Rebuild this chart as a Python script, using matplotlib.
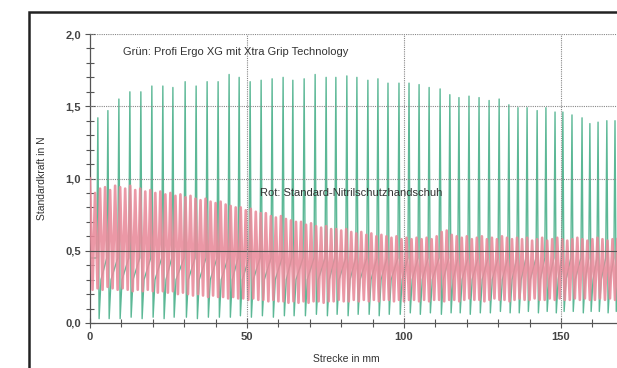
import numpy as np
import matplotlib
matplotlib.use('Agg')
import matplotlib.pyplot as plt
from matplotlib.patches import Rectangle
from matplotlib.ticker import MultipleLocator, FuncFormatter

plt.rcParams['font.family'] = ['Liberation Sans', 'DejaVu Sans']

# Grün: Spitzen (Position in mm, Kraft in N) und Tiefpunkte
gruen_x = [2.5, 5.7, 9.2, 12.7, 16.2, 19.7, 23.2, 26.4, 30.3, 33.8, 37.3, 40.8,
           44.3, 47.5, 51.0, 54.5, 58.0, 61.5, 64.6, 68.2, 71.7, 75.2, 78.3, 81.8,
           85.0, 88.5, 91.7, 94.9, 98.4, 101.6, 104.8, 108.0, 111.5, 114.6, 117.5,
           120.7, 123.9, 127.1, 130.3, 133.4, 136.3, 139.2, 142.4, 145.2, 148.1,
           150.6, 153.5, 156.7, 159.2, 161.8, 164.6, 167.2]
gruen_peak = [1.42, 1.47, 1.55, 1.60, 1.60, 1.64, 1.64, 1.63, 1.67, 1.64, 1.67, 1.67,
              1.72, 1.70, 1.67, 1.68, 1.69, 1.70, 1.68, 1.69, 1.72, 1.70, 1.70, 1.71,
              1.70, 1.68, 1.69, 1.66, 1.66, 1.66, 1.65, 1.63, 1.62, 1.58, 1.56,
              1.57, 1.56, 1.54, 1.55, 1.51, 1.49, 1.49, 1.47, 1.49, 1.46,
              1.46, 1.44, 1.42, 1.38, 1.39, 1.40, 1.40]
gruen_tief = [0.03, 0.03, 0.03, 0.04, 0.03, 0.04, 0.03, 0.04, 0.04, 0.03, 0.04, 0.04,
              0.04, 0.05, 0.04, 0.05, 0.04, 0.05, 0.05, 0.05, 0.06, 0.05, 0.06, 0.05,
              0.06, 0.06, 0.05, 0.06, 0.06, 0.07, 0.06, 0.07, 0.06, 0.07, 0.07,
              0.06, 0.07, 0.07, 0.08, 0.07, 0.07, 0.08, 0.07, 0.08, 0.07,
              0.08, 0.08, 0.07, 0.08, 0.08, 0.07, 0.08]
gruen_ruhe = (0.30, 0.45)

# Rot: Maxima und Minima je Zyklus
rot_periode = 1.6
rot_max = [1.00, 0.90, 0.93, 0.94, 0.92, 0.95, 0.94, 0.93, 0.95, 0.92, 0.93, 0.91,
           0.92, 0.90, 0.91, 0.89, 0.90, 0.88, 0.89, 0.87, 0.88, 0.86, 0.85, 0.86,
           0.84, 0.83, 0.84, 0.82, 0.81, 0.80, 0.80, 0.78, 0.79, 0.77, 0.76, 0.76,
           0.74, 0.73, 0.74, 0.72, 0.71, 0.70, 0.70, 0.68, 0.69, 0.67, 0.66, 0.67,
           0.65, 0.65, 0.64, 0.65, 0.63, 0.62, 0.63, 0.61, 0.62, 0.60, 0.61, 0.60,
           0.59, 0.60, 0.58, 0.59, 0.58, 0.59, 0.58, 0.59, 0.58, 0.60, 0.63, 0.64,
           0.61, 0.60, 0.59, 0.60, 0.58, 0.59, 0.60, 0.58, 0.59, 0.58, 0.60, 0.59,
           0.58, 0.59, 0.58, 0.59, 0.57, 0.58, 0.59, 0.57, 0.58, 0.59, 0.58, 0.57,
           0.58, 0.59, 0.58, 0.57, 0.58, 0.59, 0.58, 0.57, 0.58, 0.58]
rot_min = [0.23, 0.24, 0.23, 0.25, 0.24, 0.23, 0.24, 0.23, 0.22, 0.23, 0.22, 0.23,
           0.22, 0.21, 0.22, 0.21, 0.22, 0.20, 0.21, 0.20, 0.19, 0.20, 0.19, 0.18,
           0.19, 0.18, 0.18, 0.17, 0.18, 0.17, 0.17, 0.16, 0.17, 0.16, 0.16, 0.15,
           0.16, 0.15, 0.15, 0.14, 0.15, 0.14, 0.15, 0.14, 0.15, 0.15, 0.14, 0.15,
           0.15, 0.16, 0.15, 0.15, 0.16, 0.15, 0.16, 0.15, 0.16, 0.15, 0.16, 0.16,
           0.15, 0.16, 0.15, 0.16, 0.16, 0.15, 0.16, 0.15, 0.16, 0.16, 0.15, 0.16,
           0.16, 0.15, 0.16, 0.17, 0.16, 0.16, 0.15, 0.16, 0.17, 0.16, 0.16, 0.15,
           0.16, 0.17, 0.16, 0.16, 0.17, 0.16, 0.16, 0.17, 0.16, 0.17, 0.16, 0.16,
           0.17, 0.16, 0.17, 0.16, 0.16, 0.17, 0.16, 0.17, 0.16]

y_ticks = [0.0, 0.5, 1.0, 1.5, 2.0]
x_ticks = [0, 50, 100, 150]

# Kurven zusammensetzen
gx, gy = [0.0], [gruen_ruhe[1]]
for x, p, t in zip(gruen_x, gruen_peak, gruen_tief):
    gx += [x - 0.35, x, x + 0.4, x + 1.0]
    gy += [gruen_ruhe[1], p, t, gruen_ruhe[0]]

rx, ry = [], []
for i, m in enumerate(rot_max):
    rx.append(i * rot_periode)
    ry.append(m)
    if i < len(rot_min):
        rx.append((i + 0.5) * rot_periode)
        ry.append(rot_min[i])

fig = plt.figure(figsize=(6.17, 3.68), dpi=100)
W, H = 617, 368

# Rahmen
fig.patches.append(Rectangle((29 / W, -0.2), 2, 1.2 - 12 / H,
                             transform=fig.transFigure, fill=False,
                             edgecolor='#222222', linewidth=1.8))

ax = fig.add_axes([90 / W, (H - 323) / H, 1 - 90 / W, 289 / H])
ax.set_xlim(0, 527 / 3.14)
ax.set_ylim(0, 2.0)

ax.plot(gx, gy, color='#5cb896', lw=1.0, zorder=2)
ax.plot(rx, ry, color='#e98a9a', lw=1.9, alpha=0.88, zorder=3)

for y in [1.0, 1.5, 2.0]:
    ax.axhline(y, color='#888888', lw=0.8, ls=(0, (1, 1)), zorder=4)
ax.axhline(0.5, color='#555555', lw=0.8, zorder=4)
for x in [50, 100, 150]:
    ax.axvline(x, color='#888888', lw=0.8, ls=(0, (1, 1)), zorder=4)

for s in ['top', 'right']:
    ax.spines[s].set_visible(False)
for s in ['left', 'bottom']:
    ax.spines[s].set_color('#555555')
    ax.spines[s].set_linewidth(0.9)

ax.set_yticks(y_ticks)
ax.set_xticks(x_ticks)
ax.yaxis.set_minor_locator(MultipleLocator(0.1))
ax.xaxis.set_minor_locator(MultipleLocator(10))
ax.yaxis.set_major_formatter(FuncFormatter(lambda v, p: f'{v:.1f}'.replace('.', ',')))
ax.tick_params(which='both', direction='inout', color='#555555', width=0.8)
ax.tick_params(which='major', length=7, labelsize=8, labelcolor='#444444', pad=3)
ax.tick_params(which='minor', length=6)
for lab in ax.get_xticklabels() + ax.get_yticklabels():
    lab.set_fontweight('bold')

ax.set_ylabel('Standardkraft in N', fontsize=7.5, color='#333333')
ax.yaxis.set_label_coords(-43 / 527, 0.5)
ax.set_xlabel('Strecke in mm', fontsize=7.5, color='#333333')
ax.xaxis.set_label_coords(256 / 527, -31 / 289)

ax.text(10.5, 1.874, 'Grün: Profi Ergo XG mit Xtra Grip Technology', fontsize=8,
        color='#333333', va='center', zorder=5)
ax.text(54.1, 0.90, 'Rot: Standard-Nitrilschutzhandschuh', fontsize=8,
        color='#333333', va='center', zorder=5)

fig.savefig('out.png', dpi=100)
